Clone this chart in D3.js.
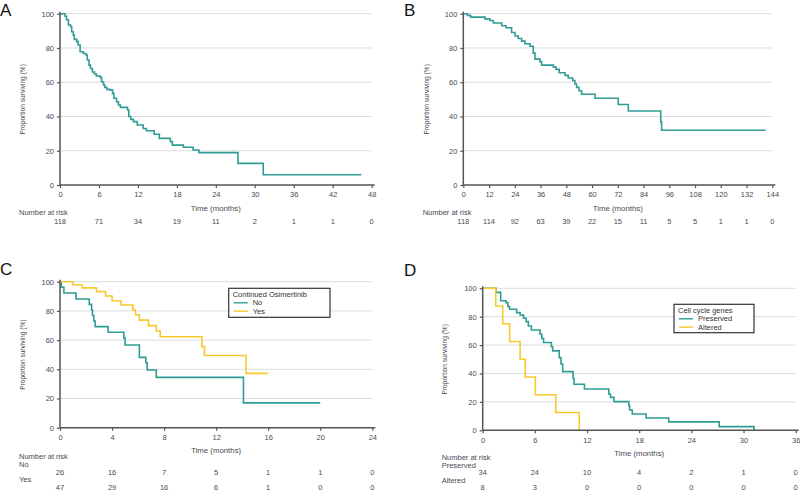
<!DOCTYPE html>
<html><head><meta charset="utf-8">
<script src="https://cdn.jsdelivr.net/npm/d3@7"></script>
<style>body{margin:0;background:#fff}svg{display:block}</style>
</head><body>
<svg id="c" width="800" height="491"></svg>
<script>
// ---- Data ----
// Panel A: overall (time in months, survival % after each step)
const aTimes = [0, 0.77, 1.0, 1.3, 1.64, 1.8, 2.05, 2.2, 2.57, 2.8, 3.1, 3.6, 4.0, 4.2, 4.47, 4.7, 5.0, 5.3, 5.6, 6.2, 6.4, 6.7, 6.9, 7.2, 7.7, 8.1, 8.3, 8.7, 9.0, 9.3, 10.4, 10.6, 10.9, 11.3, 11.9, 12.8, 13.3, 14.5, 15.3, 17.0, 17.3, 19.0, 20.5, 21.4, 27.4, 31.3, 46.4];
const aSurv  = [100, 98.5, 96.5, 93.4, 92.4, 89.5, 87.5, 85, 83.7, 81.7, 77.8, 76.8, 75.9, 73, 70, 68, 66, 64.8, 63.6, 62.8, 60.3, 58.4, 57, 55.8, 55.4, 53.5, 50.6, 48.6, 46.7, 45.3, 43.8, 40, 38.3, 37, 35, 33, 31.7, 29.6, 27.2, 25.3, 23.3, 22, 20.4, 18.9, 12.6, 6.0, 6.0];
const aRiskTimes = [0, 6, 12, 18, 24, 30, 36, 42, 48];
const aRisk = [118, 71, 34, 19, 11, 2, 1, 1, 0];

// Panel B
const bTimes = [0, 1.9, 3.4, 10.1, 12.4, 14.0, 17.9, 19.9, 22.5, 24.1, 25.6, 27.2, 28.7, 31.1, 32.6, 33.4, 35.7, 36.5, 42.0, 43.2, 44.7, 47.4, 48.9, 51.0, 52.0, 52.8, 53.9, 55.1, 61.4, 72.2, 76.9, 92.0, 92.4, 140.9];
const bSurv  = [100, 99, 98, 97, 96, 94.6, 93, 91.8, 89, 87, 85.5, 84, 82.5, 81, 77, 73.5, 72, 70, 68.8, 67.5, 65.5, 64, 62.5, 61, 59, 57, 55, 53, 50.6, 47, 43.2, 37, 32, 32];
const bRiskTimes = [0, 12, 24, 36, 48, 60, 72, 84, 96, 108, 120, 132, 144];
const bRisk = [118, 114, 92, 63, 39, 22, 15, 11, 5, 5, 1, 1, 0];

// Panel C: Continued Osimertinib
const cNoTimes = [0, 0.1, 0.3, 1.23, 2.25, 2.43, 2.5, 2.6, 2.7, 3.7, 4.9, 5.0, 6.1, 6.6, 6.7, 7.4, 14.1, 20.0];
const cNoSurv  = [100, 96.2, 92.3, 88.1, 84.5, 80.6, 76.9, 73.1, 69.2, 65.4, 61.5, 56.6, 48.2, 44.5, 39.5, 34.5, 17.0, 17.0];
const cYesTimes = [0, 1.0, 1.7, 2.8, 3.5, 4.0, 4.7, 5.6, 5.8, 6.1, 6.8, 7.4, 7.7, 10.9, 11.1, 14.3, 16.0];
const cYesSurv  = [100, 97.9, 95.8, 93.2, 90.2, 87.0, 84.0, 80.6, 77.4, 73.7, 69.9, 66.2, 62.3, 55.5, 49.5, 37.2, 37.2];
const cRiskTimes = [0, 4, 8, 12, 16, 20, 24];
const cRiskNo = [26, 16, 7, 5, 1, 1, 0];
const cRiskYes = [47, 29, 16, 6, 1, 0, 0];

// Panel D: Cell cycle genes
const dPresTimes = [0, 1.53, 2.07, 2.68, 2.9, 3.1, 3.9, 4.3, 4.7, 5.0, 5.25, 5.6, 6.6, 6.8, 7.0, 7.9, 8.05, 8.8, 9.0, 9.2, 10.4, 10.5, 11.7, 14.5, 14.7, 15.1, 16.8, 16.9, 17.2, 18.8, 21.4, 27.2, 31.2];
const dPresSurv  = [100, 97.1, 91.2, 89.9, 87.1, 85.2, 82.9, 81.2, 78.9, 76.5, 73.5, 70.6, 67.6, 64.7, 61.8, 58.8, 55.9, 51.2, 46.7, 41.3, 36.6, 32.4, 29.1, 25.6, 23.2, 20.2, 17.4, 14.3, 11.5, 8.7, 5.9, 2.6, 0];
const dAltTimes = [0, 1.5, 2.3, 3.1, 4.3, 4.9, 6.06, 8.4, 11.1];
const dAltSurv  = [100, 87.5, 75, 62.5, 50, 37.5, 25, 12.5, 0];
const dRiskTimes = [0, 6, 12, 18, 24, 30, 36];
const dRiskPres = [34, 24, 10, 4, 2, 1, 0];
const dRiskAlt = [8, 3, 0, 0, 0, 0, 0];

const yTicks = [0, 20, 40, 60, 80, 100];
const TEAL = "#2f9c95", YELLOW = "#f8c92c";
const FONT = "'Liberation Sans', Arial, sans-serif";
const TXT = "#4a4a55";

const svg = d3.select("#c");

function zip(t, s) { return t.map((v, i) => ({t: v, s: s[i]})); }

function panel(o) {
  const g = svg.append("g");
  const x = d3.scaleLinear().domain([0, o.xmax]).range([o.x0, o.x1]);
  const y = d3.scaleLinear().domain([0, 100]).range([o.yb, o.yt]);
  // gridlines
  g.selectAll(".grid").data(yTicks.filter(d => d > 0)).join("line")
    .attr("x1", o.x0).attr("x2", o.x1).attr("y1", d => y(d)).attr("y2", d => y(d))
    .attr("stroke", "#dcdcdc").attr("stroke-width", 1);
  // curves
  const line = d3.line().x(d => x(d.t)).y(d => y(d.s)).curve(d3.curveStepAfter);
  o.curves.forEach(c => {
    g.append("path").attr("d", line(zip(c.t, c.s))).attr("fill", "none")
      .attr("stroke", c.color).attr("stroke-width", 1.6);
  });
  // axes
  const xa = d3.axisBottom(x).tickValues(o.ticks).tickSize(3).tickSizeOuter(0).tickPadding(4);
  const ga = g.append("g").attr("transform", `translate(0,${o.yb})`).call(xa);
  ga.select(".domain").attr("d", `M${o.x0},0H${o.x1 + 3}`);
  const ya = d3.axisLeft(y).tickValues(yTicks).tickSize(3).tickSizeOuter(0).tickPadding(3);
  const gy = g.append("g").attr("transform", `translate(${o.x0},0)`).call(ya);
  gy.select(".domain").attr("d", `M0,${o.yt - 2}V${o.yb}`);
  [ga, gy].forEach(a => {
    a.select(".domain").attr("stroke", "#555").attr("stroke-width", 1.5);
    a.selectAll(".tick line").attr("stroke", "#555").attr("stroke-width", 1.2);
    a.selectAll("text").attr("font-family", FONT).attr("font-size", 7.5).attr("fill", TXT);
  });
  // titles
  g.append("text").attr("x", (o.x0 + o.x1) / 2).attr("y", o.yb + 25.5).attr("text-anchor", "middle")
    .attr("font-family", FONT).attr("font-size", 7.8).attr("fill", TXT).text("Time (months)");
  g.append("text").attr("transform", `translate(${o.ytx},${(o.yt + o.yb) / 2}) rotate(-90)`)
    .attr("text-anchor", "middle").attr("font-family", FONT).attr("font-size", 6.6).attr("fill", TXT)
    .text("Proportion surviving (%)");
  g.append("text").attr("x", o.lx).attr("y", o.ly).attr("font-family", FONT)
    .attr("font-size", 17).attr("fill", "#111").text(o.label);
  // risk table
  g.append("text").attr("x", o.rx).attr("y", o.riskHeadY).attr("font-family", FONT)
    .attr("font-size", 7.5).attr("fill", TXT).text("Number at risk");
  o.riskRows.forEach(r => {
    if (r.name) g.append("text").attr("x", o.rx).attr("y", r.ny).attr("font-family", FONT)
      .attr("font-size", 7.5).attr("fill", TXT).text(r.name);
    g.selectAll(null).data(r.vals).join("text")
      .attr("x", (d, i) => x(o.riskTimes[i])).attr("y", r.y).attr("text-anchor", "middle")
      .attr("font-family", FONT).attr("font-size", 7.5).attr("fill", TXT).text(d => d);
  });
  // legend
  if (o.legend) {
    const L = o.legend;
    g.append("rect").attr("x", L.x).attr("y", L.y).attr("width", L.w).attr("height", L.h)
      .attr("fill", "#fff").attr("stroke", "#333").attr("stroke-width", 1.2);
    g.append("text").attr("x", L.x + 4).attr("y", L.y + 9).attr("font-family", FONT)
      .attr("font-size", 7.5).attr("fill", "#333").text(L.title);
    L.items.forEach((it, i) => {
      const yy = L.y + 17 + i * 8.3;
      g.append("line").attr("x1", L.x + 5).attr("x2", L.x + 19).attr("y1", yy - 2.5).attr("y2", yy - 2.5)
        .attr("stroke", it.color).attr("stroke-width", 1.4);
      g.append("text").attr("x", L.x + 24).attr("y", yy).attr("font-family", FONT)
        .attr("font-size", 7.5).attr("fill", "#333").text(it.name);
    });
  }
}

panel({label: "A", lx: 0, ly: 16, x0: 60, x1: 371.7, yt: 13.7, yb: 185, xmax: 48,
  ticks: aRiskTimes, ytx: 25, rx: 19, riskHeadY: 215,
  riskTimes: aRiskTimes, riskRows: [{vals: aRisk, y: 223.5}],
  curves: [{t: aTimes, s: aSurv, color: TEAL}]});

panel({label: "B", lx: 404, ly: 16, x0: 463.3, x1: 772.3, yt: 13.7, yb: 185, xmax: 144,
  ticks: bRiskTimes, ytx: 428.5, rx: 422.7, riskHeadY: 215,
  riskTimes: bRiskTimes, riskRows: [{vals: bRisk, y: 223.5}],
  curves: [{t: bTimes, s: bSurv, color: TEAL}]});

panel({label: "C", lx: 0, ly: 275, x0: 60, x1: 372.3, yt: 281.7, yb: 427.7, xmax: 24,
  ticks: cRiskTimes, ytx: 25, rx: 19, riskHeadY: 459,
  riskTimes: cRiskTimes,
  riskRows: [{name: "No", ny: 467, vals: cRiskNo, y: 474.5}, {name: "Yes", ny: 482, vals: cRiskYes, y: 490}],
  curves: [{t: cNoTimes, s: cNoSurv, color: TEAL}, {t: cYesTimes, s: cYesSurv, color: YELLOW}],
  legend: {x: 228.7, y: 288.3, w: 101.3, h: 29, title: "Continued Osimertinib",
    items: [{name: "No", color: TEAL}, {name: "Yes", color: YELLOW}]}});

panel({label: "D", lx: 404, ly: 276, x0: 482.7, x1: 795.7, yt: 288.3, yb: 430.3, xmax: 36,
  ticks: dRiskTimes, ytx: 447, rx: 441.7, riskHeadY: 460,
  riskTimes: dRiskTimes,
  riskRows: [{name: "Preserved", ny: 467.5, vals: dRiskPres, y: 475}, {name: "Altered", ny: 483, vals: dRiskAlt, y: 490}],
  curves: [{t: dPresTimes, s: dPresSurv, color: TEAL}, {t: dAltTimes, s: dAltSurv, color: YELLOW}],
  legend: {x: 674, y: 304.3, w: 80, h: 28.4, title: "Cell cycle genes",
    items: [{name: "Preserved", color: TEAL}, {name: "Altered", color: YELLOW}]}});
</script>
</body></html>
